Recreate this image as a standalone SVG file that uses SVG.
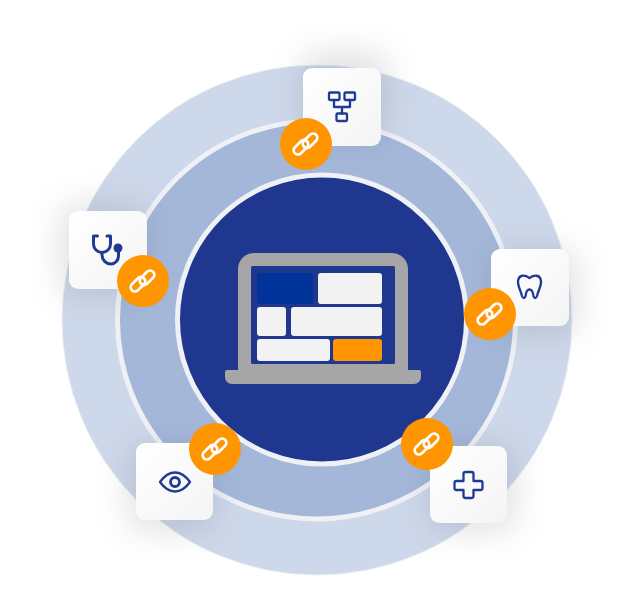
<svg xmlns="http://www.w3.org/2000/svg" xmlns:xlink="http://www.w3.org/1999/xlink" width="637" height="592" viewBox="0 0 637 592">
<style>
.card{fill:url(#cardFill)}
.ico{fill:none;stroke:#1f3a93;stroke-width:2.300;stroke-linejoin:round;stroke-linecap:round}
.thick{stroke-width:3}
.badge{fill:#ff9500}
.tile{fill:#f2f2f2}
</style>
<defs>
<linearGradient id="cardFill" x1="0" y1="0" x2="1" y2="1"><stop offset="0" stop-color="#ffffff"/><stop offset="1" stop-color="#f4f4f4"/></linearGradient>
<filter id="soft" x="-80%" y="-80%" width="260%" height="260%"><feGaussianBlur stdDeviation="17"/></filter>
<g id="link" fill="none" stroke="#fff" stroke-width="2.700">
<rect x="-3.300" y="-14" width="8.500" height="17" rx="4.250" transform="rotate(45)"/>
<rect x="-5.200" y="-3" width="8.500" height="17" rx="4.250" transform="rotate(45)"/>
</g>
</defs>
<rect width="637" height="592" fill="#fff"/>
<g id="rings">
<circle cx="317" cy="320" r="255" fill="#cdd8ea" stroke="#e9edf4" stroke-width="1"/>
<circle cx="316.500" cy="320" r="199" fill="#a4b7d9" stroke="#eff1f5" stroke-width="5"/>
<circle cx="322" cy="319.500" r="144.500" fill="#20378f" stroke="#f0f1f5" stroke-width="5"/>
</g>
<g id="shadows" fill="#5d6470" opacity="0.2" filter="url(#soft)">
<rect x="303" y="54" width="84" height="84" rx="12"/>
<rect x="62" y="205" width="84" height="90" rx="12"/>
<rect x="492" y="250" width="84" height="84" rx="12"/>
<rect x="130" y="446" width="84" height="84" rx="12"/>
<rect x="430" y="446" width="84" height="84" rx="12"/>
</g>
<g id="laptop">
<path d="M238 370V269a16 16 0 0 1 16-16H392a16 16 0 0 1 16 16V370H419a2 2 0 0 1 2 2V377a7 7 0 0 1-7 7H232a7 7 0 0 1-7-7V372a2 2 0 0 1 2-2Z" fill="#a6a6a6"/>
<rect x="251" y="266" width="144" height="98" rx="1.500" fill="#20378f"/>
<rect x="257" y="273" width="56" height="31" rx="3" fill="#003399"/>
<rect class="tile" x="318" y="273" width="64" height="31" rx="3"/>
<rect class="tile" x="257" y="307" width="29" height="29" rx="3"/>
<rect class="tile" x="291" y="307" width="91" height="29" rx="3"/>
<rect class="tile" x="257" y="339" width="73" height="22" rx="3"/>
<rect x="333" y="339" width="49" height="22" rx="3" fill="#ff9500"/>
</g>
<g id="connectors"/>
<g id="node-top">
<rect class="card" x="303" y="68" width="78" height="78" rx="9"/>
<g class="ico">
<rect x="329" y="92.500" width="10.500" height="7.500" rx="1"/>
<rect x="344.500" y="92.500" width="10.500" height="7.500" rx="1"/>
<rect x="336.500" y="113.500" width="10.500" height="7.500" rx="1"/>
<path d="M334 100V107H350V100M342 107V113.500"/>
</g>
<circle class="badge" cx="306" cy="144" r="26"/><use xlink:href="#link" href="#link" x="305.500" y="144"/>
</g>
<g id="node-left">
<rect class="card" x="69" y="211" width="78" height="78" rx="9"/>
<g class="ico thick">
<path d="M97.500 236H93.500V244a8.500 8.500 0 0 0 17 0V236H107"/>
<path d="M102 253V255a9 9 0 0 0 9 9a8 8 0 0 0 7.500-8V249"/>
</g>
<circle cx="118" cy="248" r="4.500" fill="#1f3a93"/>
<circle class="badge" cx="143" cy="281" r="26"/><use xlink:href="#link" href="#link" x="142.500" y="281"/>
</g>
<g id="node-right">
<rect class="card" x="491" y="249" width="78" height="77" rx="9"/>
<path class="ico" d="M529.500 278C525 275 519 274 518 281C517.500 286 521 291 522 296C523 299 525 298.500 525.500 296C526 292 527.500 289.500 529.500 289.500C531.500 289.500 533 292 533.500 296C534 298.500 536 299 537 296C538 291 541.500 286 541 281C540 274 534 275 529.500 278Z"/>
<circle class="badge" cx="490" cy="314" r="26"/><use xlink:href="#link" href="#link" x="489.500" y="314"/>
</g>
<g id="node-bottom-left">
<rect class="card" x="136" y="443" width="77" height="77" rx="9"/>
<g class="ico">
<path d="M160 482C165 475 170 472.500 175 472.500C180 472.500 185 475 190 482C185 489 180 491.500 175 491.500C170 491.500 165 489 160 482Z"/>
<circle cx="175" cy="482" r="4.500" style="stroke-width:2.800"/>
</g>
<circle class="badge" cx="215" cy="449" r="26"/><use xlink:href="#link" href="#link" x="214.500" y="449"/>
</g>
<g id="node-bottom-right">
<rect class="card" x="430" y="446" width="77" height="77" rx="9"/>
<path class="ico" d="M465.500 472H471.500A2 2 0 0 1 473.500 474V481H480.500A2 2 0 0 1 482.500 483V488A2 2 0 0 1 480.500 490H473.500V496A2 2 0 0 1 471.500 498H465.500A2 2 0 0 1 463.500 496V490H456.500A2 2 0 0 1 454.500 488V483A2 2 0 0 1 456.500 481H463.500V474A2 2 0 0 1 465.500 472Z"/>
<circle class="badge" cx="427" cy="444" r="26"/><use xlink:href="#link" href="#link" x="426.500" y="444"/>
</g>
</svg>
